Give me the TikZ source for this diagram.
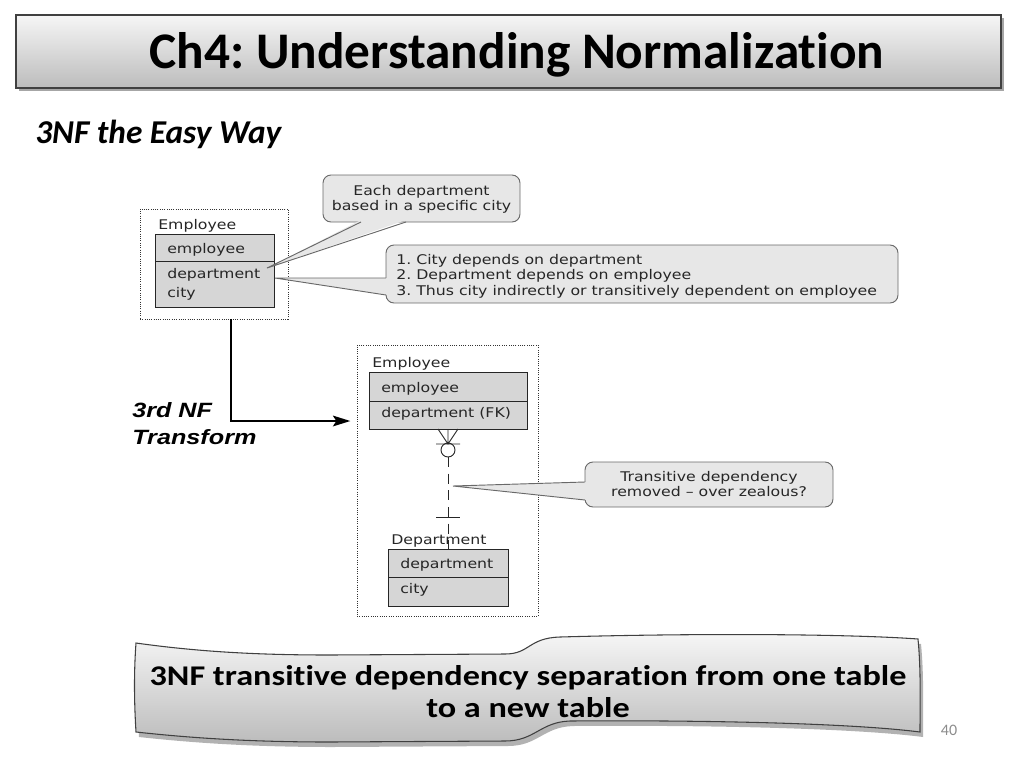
\documentclass[tikz,border=0pt]{standalone}
\usepackage{fontspec}
\setmainfont{Carlito}[Ligatures=NoCommon]
\newfontfamily\erfont{DejaVu Sans}[FakeStretch=1.18]
\newfontfamily\nffont{Liberation Sans}[FakeStretch=1.22]
\newfontfamily\bannerfont{Carlito}[FakeStretch=1.2,Ligatures=NoCommon]
\usetikzlibrary{calc,arrows.meta}
\frenchspacing

\definecolor{tabgray}{RGB}{214,214,214}
\definecolor{callgray}{RGB}{231,231,231}
\definecolor{callline}{RGB}{105,105,105}
\definecolor{slidetop}{RGB}{246,246,246}
\definecolor{slidebot}{RGB}{188,188,188}

\tikzset{
  erbox/.style={draw=black!80, densely dotted, line width=0.7pt, anchor=north west, inner sep=0pt, outer sep=0pt},
  erow/.style={draw=black!85, fill=tabgray, line width=0.7pt, anchor=north west, inner sep=0pt, outer sep=0pt},
  erlabel/.style={anchor=base west, inner sep=0pt, text=black!85, font=\erfont\fontsize{10}{11.6}\selectfont},
  callbox/.style={draw=callline, fill=callgray, line width=0.7pt, rounded corners=6pt, anchor=north west, inner sep=0pt, outer sep=0pt},
  calltext/.style={inner sep=0pt, text=black!85, font=\erfont\fontsize{10}{11.6}\selectfont},
  pointerline/.style={draw=callline, line width=0.7pt},
  slidebox/.style={draw=black!75, line width=0.8pt, top color=slidetop, bottom color=slidebot},
}

\begin{document}
\begin{tikzpicture}[x=0.75pt,y=0.75pt,yscale=-1,xscale=1]
\useasboundingbox (0,0) rectangle (1024,768);

%Shape: Title Rectangle
\fill [black, opacity=0.35] (19,18) rectangle (1004,91);
\node (titlebox) [slidebox, anchor=north west, inner sep=0pt, outer sep=0pt, minimum width=738.75pt, minimum height=54.75pt] at (16,15) {};
% Text Node
\node (title) [anchor=base, inner sep=0pt] at (517,68) {\fontsize{38.5}{44}\selectfont\bfseries Ch4: Understanding Normalization};
% Text Node
\node (subtitle) [anchor=base west, inner sep=0pt] at (35,143) {\fontsize{25}{30}\selectfont\bfseries\itshape 3NF the Easy Way};

%Shape: Old Employee
\node (oldbox) [erbox, minimum width=111pt, minimum height=82.5pt] at (140,209) {};
\node (oldrowa) [erow, minimum width=89.25pt, minimum height=20.25pt] at (155,234) {};
\node (oldrowb) [erow, minimum width=89.25pt, minimum height=34.5pt] at (155,261) {};
% Text Node
\node (oldname) [erlabel] at (158,229) {Employee};
\node (oldkey) [erlabel] at (167,253) {employee};
\node (olddept) [erlabel] at (167,278) {department};
\node (oldcity) [erlabel] at (167,297) {city};

%Shape: New Employee
\node (newbox) [erbox, minimum width=135.75pt, minimum height=203.25pt] at (357,345) {};
\node (newrowa) [erow, minimum width=118.5pt, minimum height=21.75pt] at (369,372) {};
\node (newrowb) [erow, minimum width=118.5pt, minimum height=21pt] at (369,401) {};
\node (deptrowa) [erow, minimum width=90pt, minimum height=21pt] at (388,549) {};
\node (deptrowb) [erow, minimum width=90pt, minimum height=21.75pt] at (388,577) {};
% Text Node
\node (newname) [erlabel] at (372,367) {Employee};
\node (newkey) [erlabel] at (381,392) {employee};
\node (newfk) [erlabel] at (381,417) {department (FK)};
\node (deptname) [erlabel] at (391,544) {Department};
\node (deptkey) [erlabel] at (400,568) {department};
\node (deptcity) [erlabel] at (400,593) {city};

%Relationship: zero or many to one
\node (ring) [circle, draw=black!85, line width=0.7pt, fill=white, inner sep=0pt, outer sep=0pt, minimum size=10.5pt] at (448,450) {};
\draw [black!85, line width=0.7pt] ($(newrowb.south)+(-10,0)$) -- ($(newrowb.south)+(0,15)$) -- ($(newrowb.south)+(10,0)$) ($(newrowb.south)$) -- ($(newrowb.south)+(0,15)$) ($(newrowb.south)+(-12,15)$) -- ($(newrowb.south)+(12,15)$) ;
\draw [black!85, line width=0.7pt, dash pattern=on 7.5pt off 5pt] (ring.south) -- (deptrowa.north) ;
\draw [black!85, line width=0.7pt] ($(deptrowa.north)+(-12,-32)$) -- ($(deptrowa.north)+(12,-32)$) ;

%Shape: Callout A
\node (calla) [callbox, minimum width=147.75pt, minimum height=35.25pt] at (323,175) {};
\coordinate (tipa) at (267,268);
\fill [callgray] (tipa) -- ($(calla.south west)+(38,-2)$) -- ($(calla.south west)+(83,-2)$) -- cycle;
\draw [pointerline] ($(calla.south west)+(38,0)$) -- (tipa) -- ($(calla.south west)+(83,0)$) ;
\node (calltexta) [calltext, align=center] at (421.5,199.5) {Each department\\based in a specific city};

%Shape: Callout B
\node (callb) [callbox, minimum width=384pt, minimum height=43.5pt] at (386,245) {};
\coordinate (tipb) at (275,278);
\fill [callgray] (tipb) -- ($(callb.south west)+(2,-25)$) -- ($(callb.south west)+(2,-8)$) -- cycle;
\draw [pointerline] ($(callb.south west)+(0,-25)$) -- (tipb) -- ($(callb.south west)+(0,-8)$) ;
\node (calltextb) [calltext, align=left, anchor=west] at (396,276) {1. City depends on department\\2. Department depends on employee\\3. Thus city indirectly or transitively dependent on employee};

%Shape: Callout C
\node (callc) [callbox, minimum width=186pt, minimum height=33.75pt] at (585,462) {};
\coordinate (tipc) at (453,486);
\fill [callgray] (tipc) -- ($(callc.south west)+(2,-25)$) -- ($(callc.south west)+(2,-7)$) -- cycle;
\draw [pointerline] ($(callc.south west)+(0,-25)$) -- (tipc) -- ($(callc.south west)+(0,-7)$) ;
\node (calltextc) [calltext, align=center] at (709,484) {Transitive dependency\\removed – over zealous?};

%Straight Lines: transform arrow
\coordinate (bend) at (231,421);
\draw [line width=1.6pt, -{Stealth[length=13pt, width=8pt, inset=2.5pt]}, shorten >=5pt] (bend |- oldbox.south) -- (bend) -- (bend -| newbox.west) ;
% Text Node
\node (nftext) [anchor=west, inner sep=0pt, align=left, font=\nffont\fontsize{15.5}{20.25}\selectfont\bfseries\itshape] at (132,424) {3rd NF\\Transform};

%Shape: Wave banner (shadow, shaded fill clipped to the wave, outline)
\fill [black, opacity=0.3, shift={(3,5)}] (136,643) .. controls (200,652) and (260,655) .. (330,655) -- (505,654) .. controls (530,654) and (528,638) .. (560,637) .. controls (700,633) and (850,634) .. (918,639) .. controls (921,670) and (920,700) .. (920,732) .. controls (850,723) and (700,720) .. (570,721) .. controls (540,722) and (535,741) .. (505,741) -- (330,742) .. controls (260,742) and (200,739) .. (136,732) .. controls (134,700) and (134,670) .. (136,643) -- cycle;
\begin{scope}
\clip (136,643) .. controls (200,652) and (260,655) .. (330,655) -- (505,654) .. controls (530,654) and (528,638) .. (560,637) .. controls (700,633) and (850,634) .. (918,639) .. controls (921,670) and (920,700) .. (920,732) .. controls (850,723) and (700,720) .. (570,721) .. controls (540,722) and (535,741) .. (505,741) -- (330,742) .. controls (260,742) and (200,739) .. (136,732) .. controls (134,700) and (134,670) .. (136,643) -- cycle;
\node (bannerfill) [inner sep=0pt, outer sep=0pt, minimum width=590pt, minimum height=82pt, top color=slidetop, bottom color=slidebot] at (528,688) {};
\end{scope}
\draw [black!75, line width=0.8pt] (136,643) .. controls (200,652) and (260,655) .. (330,655) -- (505,654) .. controls (530,654) and (528,638) .. (560,637) .. controls (700,633) and (850,634) .. (918,639) .. controls (921,670) and (920,700) .. (920,732) .. controls (850,723) and (700,720) .. (570,721) .. controls (540,722) and (535,741) .. (505,741) -- (330,742) .. controls (260,742) and (200,739) .. (136,732) .. controls (134,700) and (134,670) .. (136,643) -- cycle;
% Text Node
\node (bannertext) [inner sep=0pt, align=center, font=\bannerfont\fontsize{21.4}{24}\selectfont\bfseries] at (528,692) {3NF transitive dependency separation from one table\\to a new table};
% Text Node
\node (pagenum) [anchor=base, inner sep=0pt, text={rgb,255:red,140;green,140;blue,140}, font=\fontsize{12}{14}\selectfont] at (949,735) {40};

\end{tikzpicture}
\end{document}
